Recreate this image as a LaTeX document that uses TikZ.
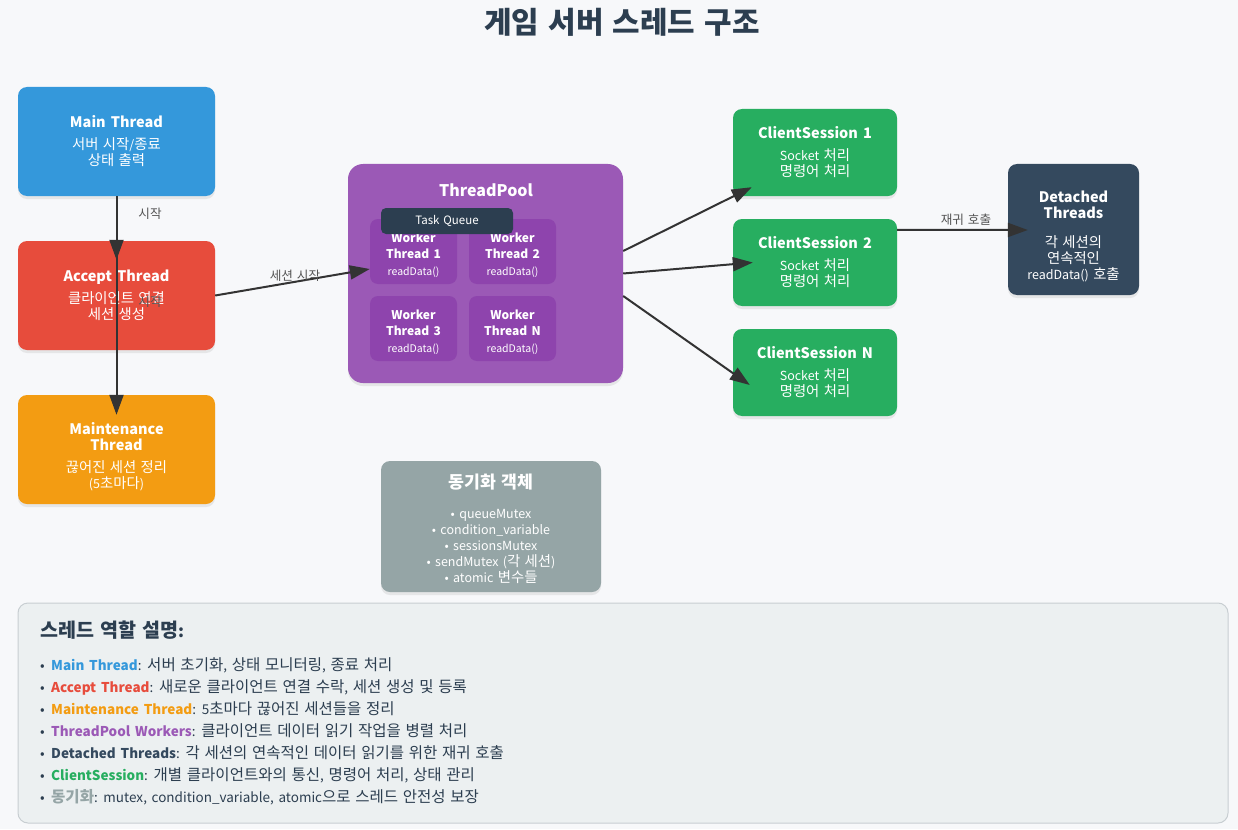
\documentclass[tikz,border=0pt]{standalone}
\usepackage{fontspec}
\setmainfont{Noto Sans CJK KR}[WordSpace=1.55]
\newfontfamily\hgfont{Noto Sans CJK KR}[Scale=1.15]
\usetikzlibrary{arrows.meta,shadows,calc}
\definecolor{bgc}{HTML}{F7F8FA}
\definecolor{cmain}{HTML}{3498DB}
\definecolor{cacc}{HTML}{E74C3C}
\definecolor{cmaint}{HTML}{F39C12}
\definecolor{cpool}{HTML}{9B59B6}
\definecolor{cwork}{HTML}{8E44AD}
\definecolor{cqueue}{HTML}{2C3E50}
\definecolor{ccs}{HTML}{27AE60}
\definecolor{cdet}{HTML}{34495E}
\definecolor{csync}{HTML}{95A5A6}
\definecolor{clegf}{HTML}{ECF0F1}
\definecolor{clegd}{HTML}{C8CED2}
\definecolor{cdark}{HTML}{2C3E50}
\definecolor{carrow}{HTML}{333333}
\definecolor{clabel}{HTML}{555555}
\newcommand{\ttl}{\fontsize{14.5}{16}\bfseries\selectfont}
\newcommand{\wtl}{\fontsize{12}{16}\bfseries\selectfont}
\newcommand{\wsm}{\fontsize{10.5}{16}\selectfont}
% Hangul syllables set slightly larger
\newXeTeXintercharclass\HgClass
\newcount\hgc
\hgc="AC00
\loop \XeTeXcharclass\hgc=\HgClass \ifnum\hgc<"D7A3 \advance\hgc by 1 \repeat
\XeTeXinterchartoks 0 \HgClass = {\begingroup\hgfont}
\XeTeXinterchartoks 4095 \HgClass = {\begingroup\hgfont}
\XeTeXinterchartoks \HgClass 0 = {\endgroup}
\XeTeXinterchartoks \HgClass 4095 = {\endgroup}
\begin{document}
\XeTeXinterchartokenstate=1
\begin{tikzpicture}[x=1pt,y=-1pt,
  tbox/.style={rounded corners=9pt, text=white, align=center, inner sep=0pt,
    drop shadow={opacity=0.15, shadow xshift=0pt, shadow yshift=-3pt},
    font=\fontsize{12.5}{16}\selectfont},
  ttxt/.style={text=white, align=center, inner sep=0pt, font=\fontsize{12.5}{16}\selectfont},
  wbox/.style={rounded corners=8pt, fill=cwork, inner sep=0pt,
    minimum width=87pt, minimum height=65pt},
  arr/.style={draw=carrow, line width=2pt, -{Triangle[length=20pt,width=14pt]}},
  lbl/.style={text=clabel, font=\fontsize{11}{13}\selectfont, inner sep=1pt},
  leg/.style={anchor=base west, text=cdark, inner sep=0pt, font=\fontsize{13.5}{16}\selectfont}
]
\path[use as bounding box, fill=bgc] (0,0) rectangle (1238,829);

\node[text=cdark, font=\fontsize{26}{30}\bfseries\selectfont] (title) at (622,22) {게임 서버 스레드 구조};

% left column
\node[tbox, fill=cmain, minimum width=197pt, minimum height=109pt] (main) at (116.5,141.5)
  {{\ttl Main Thread}\\[6pt]서버 시작/종료\\상태 출력};
\node[tbox, fill=cacc, minimum width=197pt, minimum height=109pt] (acc) at (116.5,295.5)
  {{\ttl Accept Thread}\\[6pt]클라이언트 연결\\세션 생성};
\node[tbox, fill=cmaint, minimum width=197pt, minimum height=109pt] (maint) at (116.5,449.5) {};
\node[ttxt] (maint-t) at ($(maint.center)+(0,7)$)
  {{\ttl Maintenance}\\{\ttl Thread}\\[6pt]끊어진 세션 정리\\(5초마다)};

% thread pool
\node[tbox, fill=cpool, rounded corners=15pt, minimum width=275pt, minimum height=219pt] (tp) at (485.5,273.5) {};
\node[text=white, font=\fontsize{16}{20}\bfseries\selectfont] (tpt) at (486,190) {ThreadPool};
\node[wbox] (w1) at (413.5,251.5) {};
\node[wbox] (w2) at (512.5,251.5) {};
\node[wbox] (w3) at (413.5,328.5) {};
\node[wbox] (wn) at (512.5,328.5) {};
\node[ttxt] (w1t) at ($(w1.center)+(0,3.5)$) {{\wtl Worker}\\{\wtl Thread 1}\\[1pt]{\wsm readData()}};
\node[ttxt] (w2t) at ($(w2.center)+(0,3.5)$) {{\wtl Worker}\\{\wtl Thread 2}\\[1pt]{\wsm readData()}};
\node[ttxt] (w3t) at ($(w3.center)+(0,3.5)$) {{\wtl Worker}\\{\wtl Thread 3}\\[1pt]{\wsm readData()}};
\node[ttxt] (wnt) at ($(wn.center)+(0,3.5)$) {{\wtl Worker}\\{\wtl Thread N}\\[1pt]{\wsm readData()}};
\node[rounded corners=5pt, fill=cqueue, text=white, inner sep=0pt, minimum width=132pt, minimum height=26pt,
  font=\fontsize{11.5}{14}\selectfont] (tq) at (447,221) {Task Queue};

% client sessions
\node[tbox, fill=ccs, minimum width=164pt, minimum height=87pt] (cs1) at (815,152.5)
  {{\ttl ClientSession 1}\\[6pt]Socket 처리\\명령어 처리};
\node[tbox, fill=ccs, minimum width=164pt, minimum height=87pt] (cs2) at (815,262.5)
  {{\ttl ClientSession 2}\\[6pt]Socket 처리\\명령어 처리};
\node[tbox, fill=ccs, minimum width=164pt, minimum height=87pt] (cs3) at (815,372.5)
  {{\ttl ClientSession N}\\[6pt]Socket 처리\\명령어 처리};

% detached
\node[tbox, fill=cdet, minimum width=131pt, minimum height=131pt] (det) at (1073.5,229.5) {};
\node[ttxt] (det-t) at ($(det.center)+(0,7)$)
  {{\ttl Detached}\\{\ttl Threads}\\[13pt]각 세션의\\연속적인\\readData() 호출};

% sync
\node[tbox, fill=csync, minimum width=220pt, minimum height=131pt] (sync) at (491,526.5) {};
\node[ttxt] (sync-t) at ($(sync.center)+(0,2)$)
  {{\fontsize{15}{16}\bfseries\selectfont 동기화 객체}\\[14pt]• queueMutex\\• condition\_variable\\• sessionsMutex\\• sendMutex (각 세션)\\• atomic 변수들};

% arrows
\draw[arr] (main.south) -- ($(acc.north)+(0,19)$);
\draw[arr] (acc.north) -- ($(maint.north)+(0,20)$);
\draw[arr] (acc.east) -- ($(tp.west)+(22,-4.5)$);
\draw[arr] ($(tp.east)+(0,-22.5)$) -- ($(cs1.south west)+(19,-9)$);
\draw[arr] (tp.east) -- ($(cs2.west)+(20,0)$);
\draw[arr] ($(tp.east)+(0,22.5)$) -- ($(cs3.west)+(17,12.5)$);
\draw[arr] ($(cs2.north east)+(0,11)$) -- ($(det.west)+(20,0.5)$);
\node[lbl] (l-start1) at (150,214) {시작};
\node[lbl] (l-start2) at (150,302) {시작};
\node[lbl] (l-sess) at (295,276) {세션 시작};
\node[lbl] (l-rec) at (966,220) {재귀 호출};

% legend
\draw[fill=clegf, draw=clegd, line width=1pt, rounded corners=10pt] (18,603) rectangle (1228,823);
\node[anchor=base west, text=cdark, inner sep=0pt, font=\fontsize{17}{20}\bfseries\selectfont] (legt) at (40,637) {스레드 역할 설명:};
\node[leg] (e1) at (40,670) {\makebox[11pt][l]{•}\textcolor{cmain}{\bfseries Main Thread}: 서버 초기화, 상태 모니터링, 종료 처리};
\node[leg] (e2) at (40,692) {\makebox[11pt][l]{•}\textcolor{cacc}{\bfseries Accept Thread}: 새로운 클라이언트 연결 수락, 세션 생성 및 등록};
\node[leg] (e3) at (40,714) {\makebox[11pt][l]{•}\textcolor{cmaint}{\bfseries Maintenance Thread}: 5초마다 끊어진 세션들을 정리};
\node[leg] (e4) at (40,736) {\makebox[11pt][l]{•}\textcolor{cpool}{\bfseries ThreadPool Workers}: 클라이언트 데이터 읽기 작업을 병렬 처리};
\node[leg] (e5) at (40,758) {\makebox[11pt][l]{•}\textcolor{cdet}{\bfseries Detached Threads}: 각 세션의 연속적인 데이터 읽기를 위한 재귀 호출};
\node[leg] (e6) at (40,780) {\makebox[11pt][l]{•}\textcolor{ccs}{\bfseries ClientSession}: 개별 클라이언트와의 통신, 명령어 처리, 상태 관리};
\node[leg] (e7) at (40,802) {\makebox[11pt][l]{•}\textcolor{csync}{\bfseries 동기화}: mutex, condition\_variable, atomic으로 스레드 안전성 보장};
\end{tikzpicture}
\end{document}
